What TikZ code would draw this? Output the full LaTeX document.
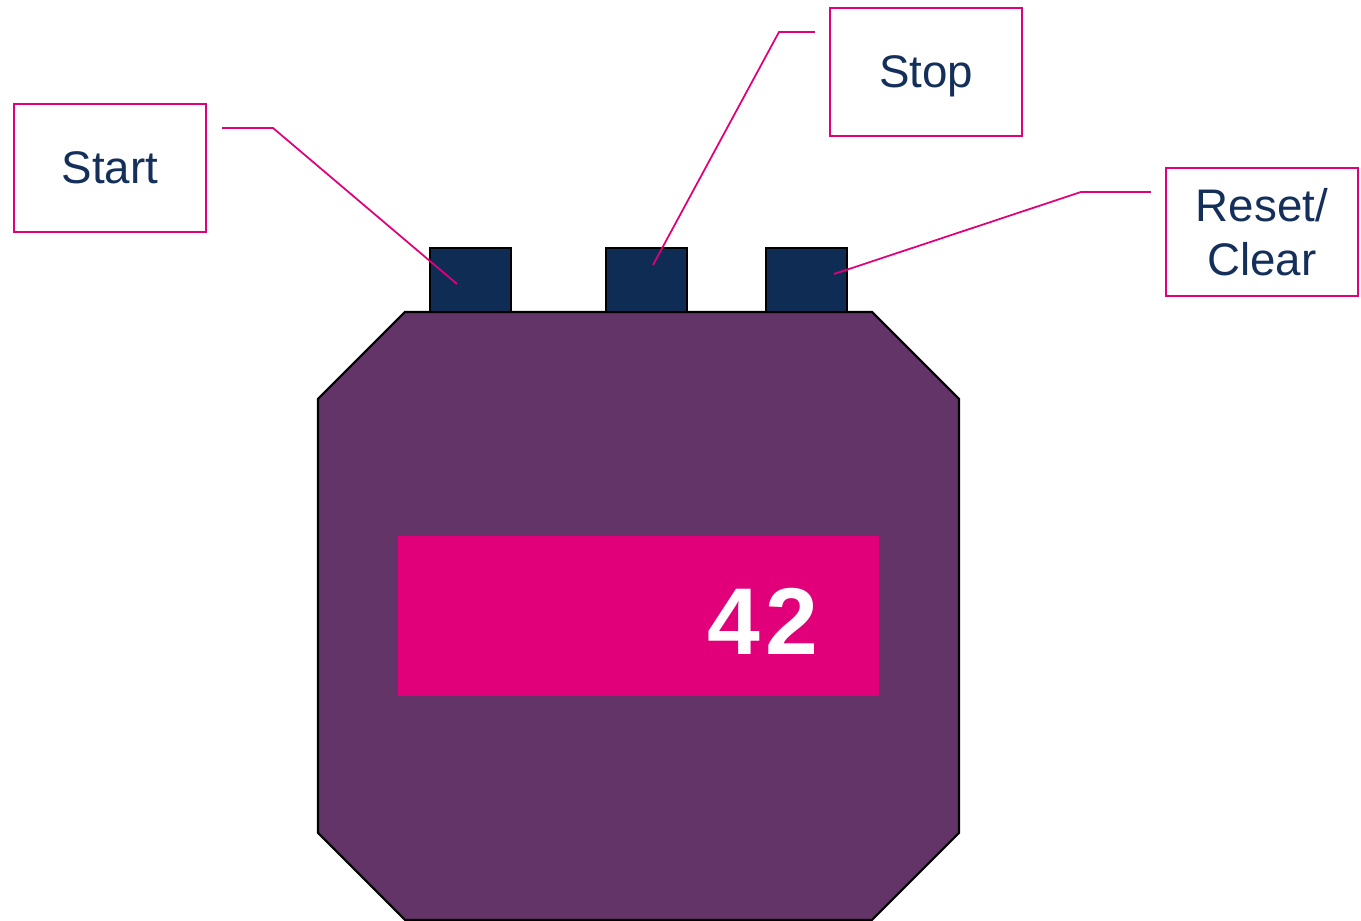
\documentclass[tikz,border=0pt]{standalone}
\usepackage{fontspec}
\setmainfont{Liberation Sans}
\definecolor{casepurple}{HTML}{633468}
\definecolor{displaypink}{HTML}{E2007A}
\definecolor{buttonnavy}{HTML}{0F2C55}
\definecolor{labelnavy}{HTML}{14305A}
\tikzset{
	labelbox/.style={shape=rectangle, draw=displaypink, line width=0.6pt, minimum width=1.92cm, minimum height=1.28cm, align=center, text=labelnavy, font=\fontsize{13}{15.5}\selectfont},
	knob/.style={shape=rectangle, draw=black, line width=0.5pt, fill=buttonnavy, minimum width=0.81cm, minimum height=0.64cm},
	leader/.style={draw=displaypink, line width=0.5pt}
}
\begin{document}
\begin{tikzpicture}[transform shape]
	\useasboundingbox (0,0) rectangle (13.61,9.21);
	% Case and display:
	\draw[fill=casepurple, line width=0.6pt] (4.05,6.09) -- (8.72,6.09) -- (9.59,5.22) -- (9.59,0.88) -- (8.72,0.01) -- (4.05,0.01) -- (3.18,0.88) -- (3.18,5.22) -- cycle;
	\node[shape=rectangle, fill=displaypink, minimum width=4.81cm, minimum height=1.60cm] (display) at (6.385, 3.05){};
	\node[text=white, font=\fontsize{27}{30}\bfseries\selectfont, inner sep=0pt] (count) at (7.63, 3.0){4\kern1.5pt2};
	% Buttons:
	\node[knob] (startbtn) at (4.705, 6.41){};
	\node[knob] (stopbtn) at (6.465, 6.41){};
	\node[knob] (resetbtn) at (8.065, 6.41){};
	% Labels and leaders:
	\node[labelbox] (startlbl) at (1.10, 7.53){Start};
	\node[labelbox, text depth=0pt] (stoplbl) at (9.26, 8.49){Stop};
	\node[labelbox] (resetlbl) at (12.62, 6.89){Reset/\\Clear};
	\coordinate (startA) at (2.22, 7.93);
	\coordinate (startB) at (4.57, 6.37);
	\coordinate (stopA) at (8.15, 8.89);
	\coordinate (stopB) at (6.53, 6.56);
	\coordinate (resetA) at (11.51, 7.29);
	\coordinate (resetB) at (8.34, 6.47);
	\draw[leader] (startA) -- (2.73, 7.93) -- (startB);
	\draw[leader] (stopA) -- (7.79, 8.89) -- (stopB);
	\draw[leader] (resetA) -- (10.81, 7.29) -- (resetB);
\end{tikzpicture}
\end{document}
